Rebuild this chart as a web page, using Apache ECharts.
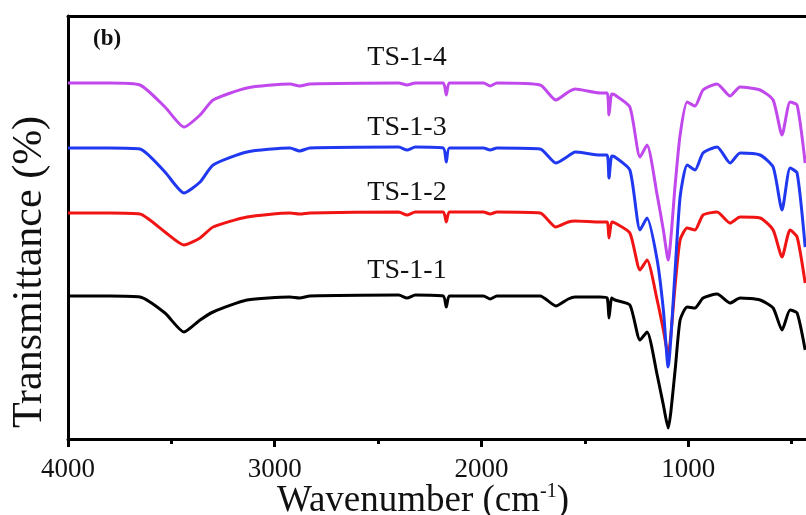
<!DOCTYPE html>
<html>
<head>
<meta charset="utf-8">
<script src="https://cdn.jsdelivr.net/npm/echarts@6/dist/echarts.min.js"></script>
<style>
  html, body { margin: 0; padding: 0; background: #fff; }
  #main { width: 806px; height: 515px; }
</style>
</head>
<body>
<div id="main"></div>
<script>
// wavenumber (cm-1), shared by all four spectra
var wavenumber = [4000, 3800, 3652, 3531, 3439, 3361, 3298, 3134, 2926, 2880, 2830, 2400, 2360, 2320,
  2185, 2170, 2155, 1990, 1958, 1925, 1716, 1640, 1580, 1547, 1426, 1392, 1383, 1370, 1354, 1282,
  1233, 1199, 1150, 1120, 1097, 1063, 1039, 1005, 967, 928, 860, 797, 749, 652, 589, 546, 507, 473, 434];

// transmittance, arbitrary offset units
var ts11 = [143,143,142,126,107,119,127,139,142,141,143,144,141,144,143,132,143,143,140,143,143,133,140,142,142,
  141,121,141,139,134,99,107,64,34,11,69,119,132,131,141,145,136,141,139,131,109,129,126,89];
var ts12 = [226,226,225,207,194,201,212,222,226,225,226,227,224,227,227,217,227,227,225,227,226,212,217,218,217,
  217,201,217,216,206,169,179,139,109,84,154,199,211,209,224,227,216,222,221,209,182,209,202,156];
var ts13 = [291,291,290,267,246,257,274,287,291,288,291,292,289,292,291,277,291,291,289,291,290,276,283,287,284,
  284,261,283,282,269,209,221,179,129,72,169,242,274,269,286,292,276,286,284,272,229,271,266,192];
var ts14 = [356,356,354,332,312,324,339,351,355,353,355,356,354,356,356,344,356,356,353,356,354,339,347,350,346,
  346,324,345,344,332,282,294,244,209,179,254,304,337,333,349,355,343,352,349,339,304,337,334,276];

var names = ['TS-1-1', 'TS-1-2', 'TS-1-3', 'TS-1-4'];
var colors = ['#000000', '#f01414', '#2038f0', '#c048ec'];
var labelY = [168, 246, 311, 381];
var labelX = 2360;
var majorTicks = [4000, 3000, 2000, 1000];
var minorTicks = [4000, 3500, 3000, 2500, 2000, 1500, 1000, 500];

var chartDom = document.getElementById('main');
var myChart = echarts.init(chartDom);
var font = 'Liberation Serif';

function pairs(ys) {
  return wavenumber.map(function (w, i) { return [w, ys[i]]; });
}

var spectra = [ts11, ts12, ts13, ts14];
var series = spectra.map(function (ys, k) {
  return {
    name: names[k],
    type: 'line',
    xAxisIndex: 0,
    data: pairs(ys),
    showSymbol: false,
    smooth: 0.2,
    lineStyle: { color: colors[k], width: 3 },
    silent: true,
    markPoint: {
      symbol: 'circle',
      symbolSize: 0,
      data: [{ coord: [labelX, labelY[k]] }],
      label: {
        show: true,
        formatter: names[k],
        color: '#111',
        fontFamily: font,
        fontSize: 28
      }
    }
  };
});

var option = {
  animation: false,
  grid: { left: 68, right: 0, top: 16, bottom: 76, outerBoundsMode: 'none', containLabel: false },
  graphic: [{
    type: 'text',
    left: 93,
    top: 28,
    style: { text: '(b)', font: 'bold 23px "Liberation Serif"', fill: '#111' }
  }, {
    type: 'text',
    x: 30,
    y: 272,
    rotation: Math.PI / 2,
    style: {
      text: 'Transmittance (%)',
      font: '42px "Liberation Serif"',
      fill: '#111',
      align: 'center',
      verticalAlign: 'middle'
    }
  }, {
    type: 'text',
    x: 423,
    y: 501,
    style: {
      text: '{a|Wavenumber (cm}{s|-1}{a|)}',
      align: 'center',
      verticalAlign: 'middle',
      rich: {
        a: { fontFamily: font, fontSize: 37, fill: '#111', lineHeight: 38 },
        s: { fontFamily: font, fontSize: 20, fill: '#111', verticalAlign: 'top', lineHeight: 38 }
      }
    }
  }],
  xAxis: [{
    type: 'value',
    inverse: true,
    min: 430,
    max: 4000,
    position: 'bottom',
    axisLine: { show: true, lineStyle: { color: '#000', width: 3 } },
    axisTick: { show: true, length: 8, inside: false, customValues: majorTicks, lineStyle: { color: '#000', width: 3 } },
    axisLabel: {
      customValues: majorTicks,
      formatter: function (v) { return String(v); },
      fontFamily: font, fontSize: 27, color: '#111', margin: 17
    },
    splitLine: { show: false }
  }, {
    type: 'value',
    inverse: true,
    min: 430,
    max: 4000,
    position: 'bottom',
    axisLine: { show: false },
    axisTick: { show: true, length: 5, customValues: minorTicks, lineStyle: { color: '#000', width: 3 } },
    axisLabel: { show: false },
    splitLine: { show: false }
  }, {
    type: 'value',
    inverse: true,
    min: 430,
    max: 4000,
    position: 'top',
    axisLine: { show: true, lineStyle: { color: '#000', width: 3 } },
    axisTick: { show: false },
    axisLabel: { show: false },
    splitLine: { show: false }
  }],
  yAxis: {
    type: 'value',
    min: 0,
    max: 423,
    axisLine: { show: true, lineStyle: { color: '#000', width: 3 } },
    axisTick: { show: false },
    axisLabel: { show: false },
    splitLine: { show: false }
  },
  series: series
};

myChart.setOption(option);
</script>
</body>
</html>
